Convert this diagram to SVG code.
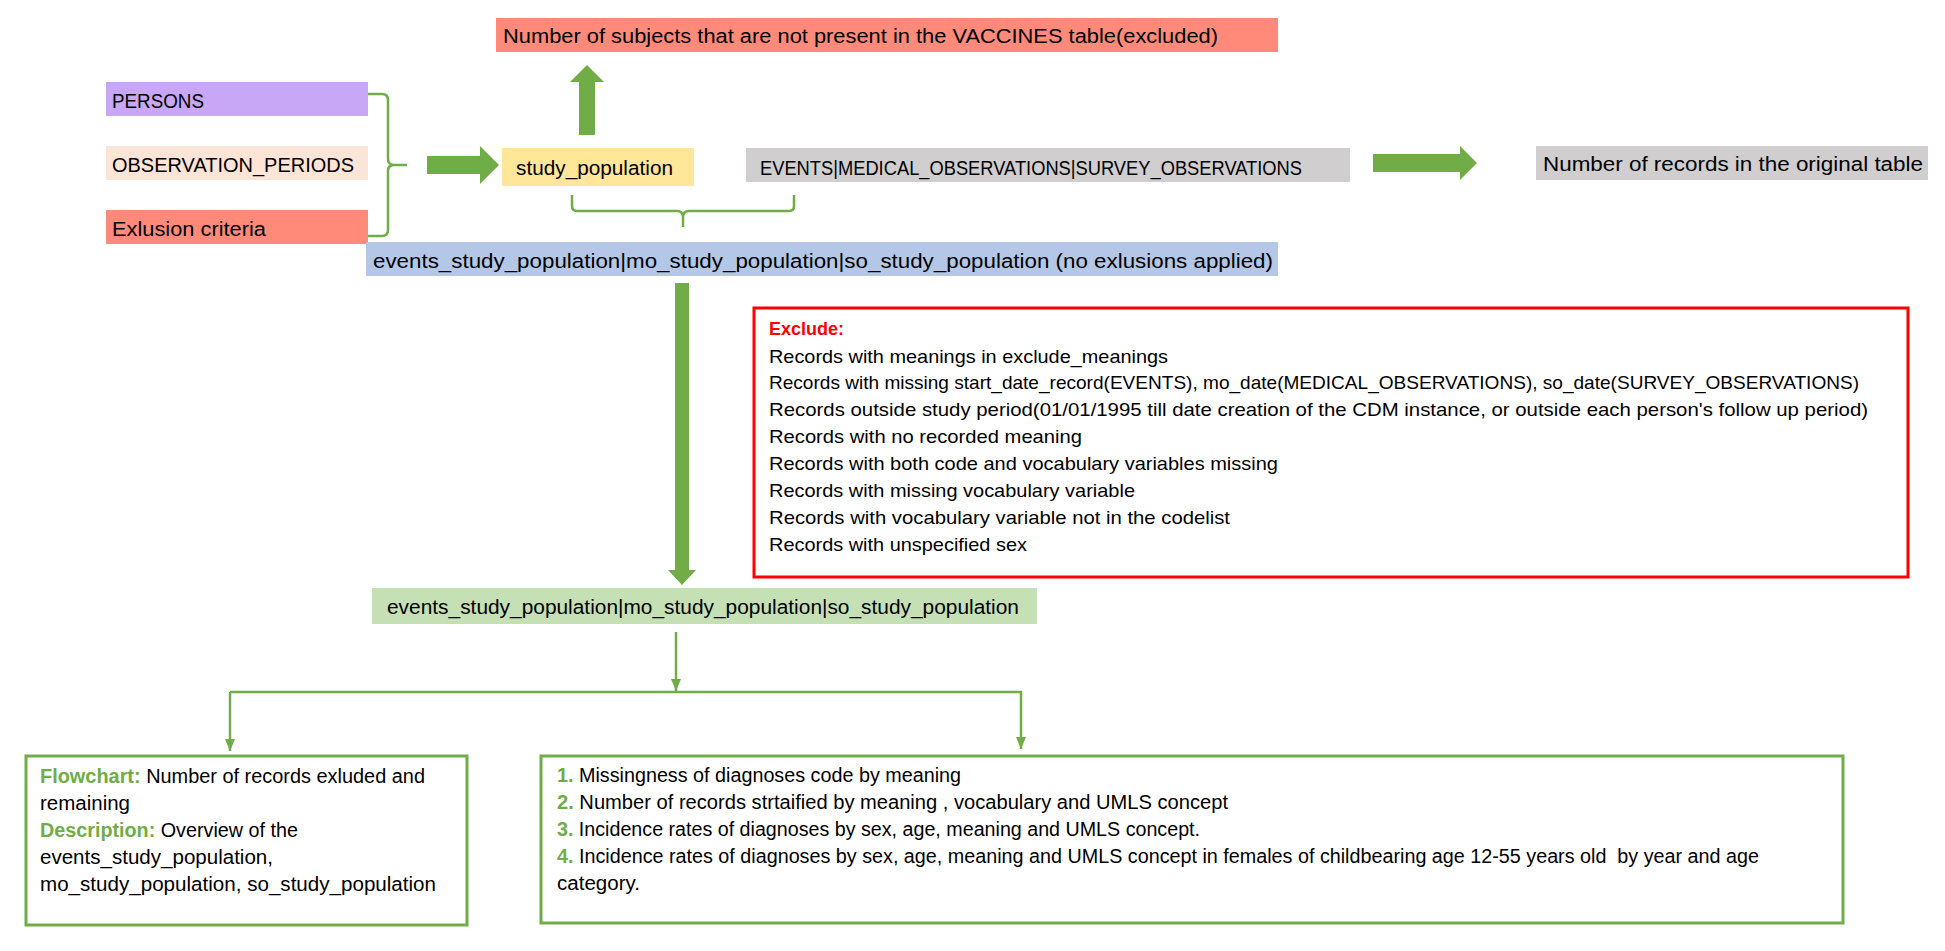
<svg xmlns="http://www.w3.org/2000/svg" width="1945" height="951" viewBox="0 0 1945 951">
<defs>
<style>
text{font-family:"Liberation Sans",Arial,sans-serif;fill:#000;}
.t20{font-size:20px;}
.t19{font-size:19px;}
.tb{font-size:19.5px;}
.g{fill:#70AD47;font-weight:bold;}
.r{fill:#FF0000;font-weight:bold;}
.line{fill:none;stroke:#70AD47;stroke-width:2.5;}
.brace{fill:none;stroke:#70AD47;stroke-width:2.5;stroke-linejoin:round;}
.fat{fill:#70AD47;}
.gbox{fill:#fff;stroke:#70AD47;stroke-width:3;}
</style>
<marker id="ah" viewBox="0 0 12 10" refX="12" refY="5" markerWidth="12" markerHeight="10" markerUnits="userSpaceOnUse" orient="auto">
<path d="M0,0 L12,5 L0,10 Z" fill="#70AD47"/>
</marker>
</defs>
<rect width="1945" height="951" fill="#fff"/>

<g id="connectors">
<path class="brace" d="M368,94 H382 Q388,94 388,100 V159 Q388,165 394,165 H407 M394,165 Q388,165 388,171 V230 Q388,236 382,236 H368"/>
<polygon class="fat" points="427,156 480,156 480,146 499,165 480,184 480,174 427,174"/>
<polygon class="fat" points="579,135 579,82 570,82 587,65 604,82 595,82 595,135"/>
<path class="brace" d="M572,195 V206 Q572,211 577,211 H677 Q683,211 683,217 V227 M683,217 Q683,211 689,211 H789 Q794,211 794,206 V195"/>
<polygon class="fat" points="1373,154 1460,154 1460,146 1477,163 1460,180 1460,172 1373,172"/>
<polygon class="fat" points="675,283 689,283 689,570 696,570 682,585 668,570 675,570"/>
<line class="line" x1="676" y1="632" x2="676" y2="691" marker-end="url(#ah)"/>
<path class="line" d="M230,692 H1021 V749" marker-end="url(#ah)"/>
<line class="line" x1="230" y1="692" x2="230" y2="751" marker-end="url(#ah)"/>
</g>

<g id="node-excluded-subjects">
<rect x="496" y="18" width="782" height="34" fill="#FF8A7A"/>
<text class="t20" x="503" y="43" textLength="715" lengthAdjust="spacingAndGlyphs">Number of subjects that are not present in the VACCINES table(excluded)</text>
</g>

<g id="node-persons">
<rect x="106" y="82" width="262" height="34" fill="#C9A7F7"/>
<text class="t20" x="112" y="108" textLength="92" lengthAdjust="spacingAndGlyphs">PERSONS</text>
</g>

<g id="node-observation-periods">
<rect x="106" y="146" width="262" height="34" fill="#FCE4D6"/>
<text class="t20" x="112" y="172" textLength="242" lengthAdjust="spacingAndGlyphs">OBSERVATION_PERIODS</text>
</g>

<g id="node-exclusion-criteria">
<rect x="106" y="210" width="262" height="34" fill="#FF8A7A"/>
<text class="t20" x="112" y="236" textLength="154" lengthAdjust="spacingAndGlyphs">Exlusion criteria</text>
</g>

<g id="node-study-population">
<rect x="502" y="148" width="192" height="38" fill="#FFE699"/>
<text class="t20" x="516" y="175" textLength="157" lengthAdjust="spacingAndGlyphs">study_population</text>
</g>

<g id="node-events">
<rect x="746" y="148" width="604" height="34" fill="#D0CECE"/>
<text class="t20" x="760" y="175" textLength="542" lengthAdjust="spacingAndGlyphs">EVENTS|MEDICAL_OBSERVATIONS|SURVEY_OBSERVATIONS</text>
</g>

<g id="node-original-records">
<rect x="1536" y="146" width="392" height="34" fill="#D0CECE"/>
<text class="t20" x="1543" y="171" textLength="380" lengthAdjust="spacingAndGlyphs">Number of records in the original table</text>
</g>

<g id="node-no-exclusions">
<rect x="366" y="242" width="912" height="34" fill="#B4C7E7"/>
<text class="t20" x="373" y="268" textLength="900" lengthAdjust="spacingAndGlyphs">events_study_population|mo_study_population|so_study_population (no exlusions applied)</text>
</g>

<g id="node-exclude">
<rect x="754" y="308" width="1154" height="269" fill="#fff" stroke="#FF0000" stroke-width="3"/>
<text class="t19 r" x="769" y="335" textLength="75" lengthAdjust="spacingAndGlyphs">Exclude:</text>
<text class="t19" x="769" y="362.5" textLength="399" lengthAdjust="spacingAndGlyphs">Records with meanings in exclude_meanings</text>
<text class="t19" x="769" y="389.4" textLength="1090" lengthAdjust="spacingAndGlyphs">Records with missing start_date_record(EVENTS), mo_date(MEDICAL_OBSERVATIONS), so_date(SURVEY_OBSERVATIONS)</text>
<text class="t19" x="769" y="416.3" textLength="1099" lengthAdjust="spacingAndGlyphs">Records outside study period(01/01/1995 till date creation of the CDM instance, or outside each person's follow up period)</text>
<text class="t19" x="769" y="443.2" textLength="313" lengthAdjust="spacingAndGlyphs">Records with no recorded meaning</text>
<text class="t19" x="769" y="470.1" textLength="509" lengthAdjust="spacingAndGlyphs">Records with both code and vocabulary variables missing</text>
<text class="t19" x="769" y="497" textLength="366" lengthAdjust="spacingAndGlyphs">Records with missing vocabulary variable</text>
<text class="t19" x="769" y="523.9" textLength="461" lengthAdjust="spacingAndGlyphs">Records with vocabulary variable not in the codelist</text>
<text class="t19" x="769" y="550.8" textLength="258" lengthAdjust="spacingAndGlyphs">Records with unspecified sex</text>
</g>

<g id="node-final-population">
<rect x="372" y="588" width="665" height="36" fill="#C5E0B4"/>
<text class="t20" x="387" y="614" textLength="632" lengthAdjust="spacingAndGlyphs">events_study_population|mo_study_population|so_study_population</text>
</g>

<g id="node-flowchart">
<rect class="gbox" x="26" y="756" width="441" height="169"/>
<text class="tb" x="40" y="783" textLength="385" lengthAdjust="spacingAndGlyphs"><tspan class="g">Flowchart:</tspan> Number of records exluded and</text>
<text class="tb" x="40" y="810" textLength="90" lengthAdjust="spacingAndGlyphs">remaining</text>
<text class="tb" x="40" y="837" textLength="258" lengthAdjust="spacingAndGlyphs"><tspan class="g">Description:</tspan> Overview of the</text>
<text class="tb" x="40" y="864" textLength="233" lengthAdjust="spacingAndGlyphs">events_study_population,</text>
<text class="tb" x="40" y="891" textLength="396" lengthAdjust="spacingAndGlyphs">mo_study_population, so_study_population</text>
</g>

<g id="node-analyses">
<rect class="gbox" x="541" y="756" width="1302" height="167"/>
<text class="tb" x="557" y="782" textLength="404" lengthAdjust="spacingAndGlyphs"><tspan class="g">1.</tspan> Missingness of diagnoses code by meaning</text>
<text class="tb" x="557" y="809" textLength="671" lengthAdjust="spacingAndGlyphs"><tspan class="g">2.</tspan> Number of records strtaified by meaning , vocabulary and UMLS concept</text>
<text class="tb" x="557" y="836" textLength="643" lengthAdjust="spacingAndGlyphs"><tspan class="g">3.</tspan> Incidence rates of diagnoses by sex, age, meaning and UMLS concept.</text>
<text class="tb" x="557" y="863" textLength="1202" lengthAdjust="spacingAndGlyphs" xml:space="preserve"><tspan class="g">4.</tspan> Incidence rates of diagnoses by sex, age, meaning and UMLS concept in females of childbearing age 12-55 years old  by year and age</text>
<text class="tb" x="557" y="890" textLength="83" lengthAdjust="spacingAndGlyphs">category.</text>
</g>
</svg>
